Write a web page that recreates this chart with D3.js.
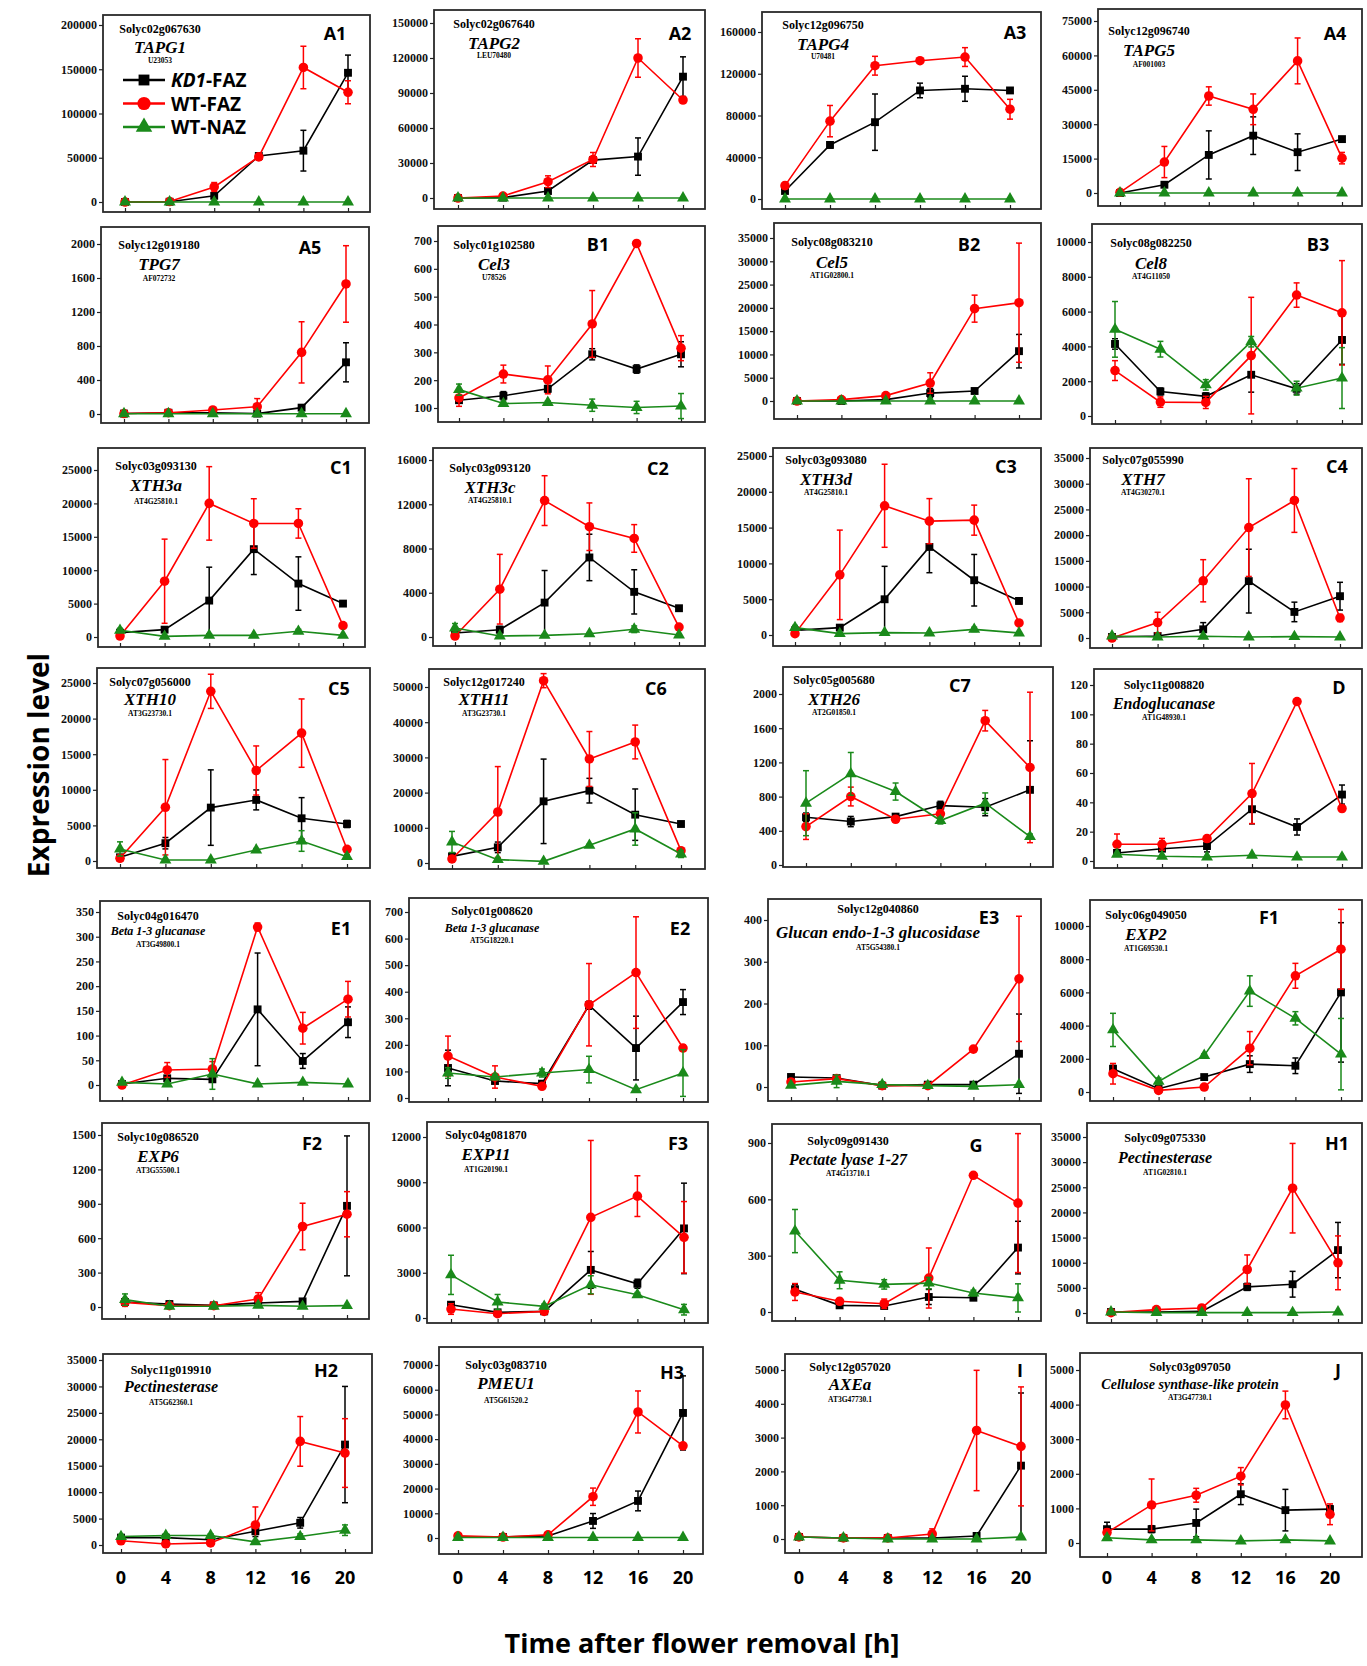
<!DOCTYPE html>
<html>
<head>
<meta charset="utf-8">
<script src="https://cdn.jsdelivr.net/npm/d3@7"></script>
<style>
  body { margin: 0; background: #fff; }
  svg { display: block; }
  .tick text { font-family: "Liberation Serif", serif; font-weight: bold; font-size: 12px; fill: #111; }
  .tick line { stroke: #222; stroke-width: 1.2; }
</style>
</head>
<body>
<div id="chart"></div>
<script>
/* DATA */
const times = [0, 4, 8, 12, 16, 20];
const seriesNames = ["KD1-FAZ", "WT-FAZ", "WT-NAZ"];

const panelIds = ["A1","A2","A3","A4","A5","B1","B2","B3","C1","C2","C3","C4","C5","C6","C7","D",
  "E1","E2","E3","F1","F2","F3","G","H1","H2","H3","I","J"];

const geneIds = ["Solyc02g067630","Solyc02g067640","Solyc12g096750","Solyc12g096740","Solyc12g019180",
  "Solyc01g102580","Solyc08g083210","Solyc08g082250","Solyc03g093130","Solyc03g093120","Solyc03g093080",
  "Solyc07g055990","Solyc07g056000","Solyc12g017240","Solyc05g005680","Solyc11g008820","Solyc04g016470",
  "Solyc01g008620","Solyc12g040860","Solyc06g049050","Solyc10g086520","Solyc04g081870","Solyc09g091430",
  "Solyc09g075330","Solyc11g019910","Solyc03g083710","Solyc12g057020","Solyc03g097050"];

const geneNames = ["TAPG1","TAPG2","TAPG4","TAPG5","TPG7","Cel3","Cel5","Cel8","XTH3a","XTH3c","XTH3d",
  "XTH7","XTH10","XTH11","XTH26","Endoglucanase","Beta 1-3 glucanase","Beta 1-3 glucanase",
  "Glucan endo-1-3 glucosidase","EXP2","EXP6","EXP11","Pectate lyase 1-27","Pectinesterase",
  "Pectinesterase","PMEU1","AXEa","Cellulose synthase-like protein"];

const accessions = ["U23053","LEU70480","U70481","AF001003","AF072732","U78526","AT1G02800.1","AT4G11050",
  "AT4G25810.1","AT4G25810.1","AT4G25810.1","AT4G30270.1","AT3G23730.1","AT3G23730.1","AT2G01850.1",
  "AT1G48930.1","AT3G49800.1","AT5G18220.1","AT5G54380.1","AT1G69530.1","AT3G55500.1","AT1G20190.1",
  "AT4G13710.1","AT1G02810.1","AT5G62360.1","AT5G61520.2","AT3G47730.1","AT3G47730.1"];

// [lowest tick, highest tick, step]
const yTickSpecs = [[0,200000,50000],[0,150000,30000],[0,160000,40000],[0,75000,15000],[0,2000,400],
  [100,700,100],[0,35000,5000],[0,10000,2000],[0,25000,5000],[0,16000,4000],[0,25000,5000],[0,35000,5000],
  [0,25000,5000],[0,50000,10000],[0,2000,400],[0,120,20],[0,350,50],[0,700,100],[0,400,100],[0,10000,2000],
  [0,1500,300],[0,12000,3000],[0,900,300],[0,35000,5000],[0,35000,5000],[0,70000,10000],[0,5000,1000],[0,5000,1000]];

const kd1Values = [
  [0,300,7000,52000,58000,146000],[0,300,6000,32500,35500,104000],[7700,51800,73600,104000,105600,104000],
  [0,3600,16600,25000,17800,23500],[5,15,15,5,75,608],[128,144,169,293,240,293],[0,0,300,1700,2150,10700],
  [4140,1410,1130,2370,1560,4370],[650,1100,5450,13150,8000,5000],[360,660,3110,7190,4080,2600],
  [650,1030,4990,12300,7650,4760],[200,390,1690,11060,5070,8130],[520,2500,7500,8580,6000,5200],
  [1890,4450,17520,20550,13730,11080],[558,508,566,695,676,879],[5.5,8.4,10.2,35.3,23.2,45.3],
  [2,13.5,11.5,153,48.6,127],[113,64,54,349,188,361],[24,21.5,3.2,5.6,5.6,79.7],[1400,200,900,1680,1580,6000],
  [43.5,26,14.5,35,49,882],[880,374,440,3190,2270,5940],[121,35.5,32,80,76,343],[200,200,330,5190,5720,12510],
  [1400,1400,1000,2600,4200,19000],[400,400,850,6900,15000,50600],[60,30,30,30,90,2170],[400,400,580,1410,950,980]];

const kd1Errors = [
  [0,0,2000,2000,23000,20000],[0,0,2000,2000,16000,17000],[1500,3000,27000,7000,12000,1500],
  [0,500,10500,8200,8000,1000],[0,5,5,5,15,230],[10,15,12,20,15,45],[0,0,100,1000,300,3600],
  [300,200,200,1000,300,1400],[200,300,5000,3800,4000,300],[200,300,2900,2100,2000,200],
  [200,300,4600,3600,3600,400],[100,200,1300,6200,1900,2700],[300,800,5300,1400,2900,500],
  [1000,1500,12000,3500,7300,500],[50,60,30,50,100,574],[1,5,4,10,5.5,6.5],[1,5,5,114,15,31],
  [67,10,5,15,120,47],[2,2,2,2,2,95],[200,100,100,500,470,4200],[30,5,5,10,10,610],[100,100,100,1220,300,3000],
  [25,10,10,40,10,140],[100,100,100,700,2560,5500],[300,300,300,1000,1000,11000],[300,300,300,3000,4000,15000],
  [20,20,20,20,30,2150],[200,100,400,300,600,100]];

const wtFazValues = [
  [0,500,17000,51000,152000,124000],[0,1700,14000,33000,120000,84000],[12800,74600,127700,132500,136000,86000],
  [300,13500,42300,36500,57600,15200],[5,15,47,86,725,1530],[136,222,201,402,691,315],[0,300,1150,3860,19830,21100],
  [2610,800,780,3470,6950,5930],[150,8350,20000,17000,17000,1700],[90,4320,12330,9970,8910,900],
  [190,8400,18050,15900,16040,1680],[0,3000,11130,21470,26740,3900],[380,7550,23830,12710,17960,1640],
  [1140,14490,51800,29550,34380,3500],[449,801,535,598,1688,1141],[11.4,11.4,15.3,46,108.7,35.8],
  [0,30.4,32.4,319.6,114.9,173.6],[158,79,44,351,472,188],[12,20,3.2,3.2,90.8,259],[1100,100,300,2640,7000,8600],
  [40.6,11.6,11.6,70,702,809],[594,286,440,6670,8080,5350],[106.5,57,44,181,728,580],[70,665,1000,8650,24820,9980],
  [800,200,400,3800,19600,17400],[850,400,1300,16700,51000,37300],[60,30,30,150,3210,2740],[300,1100,1380,1930,3990,830]];

const wtFazErrors = [
  [0,0,5000,2000,24000,13000],[0,0,5000,6000,16500,2000],[3000,15000,9000,2000,9000,9500],
  [0,6800,4000,6700,10000,2500],[5,5,10,95,360,450],[30,32,50,120,8,45],[0,0,200,2200,2900,12800],
  [570,300,350,3350,700,3000],[300,6300,5500,3700,2200,300],[100,3150,2250,2150,1250,200],
  [200,6250,5800,3150,2100,300],[100,2000,4100,9500,6200,700],[300,6700,2400,3450,4800,300],
  [500,12900,2000,7800,4800,500],[150,110,30,40,120,880],[7,4,2,20.5,1,2],[2,15,15,8,32,36],
  [75,42,5,155,210,12],[3,5,2,2,5,150],[620,100,100,1000,750,2400],[35,5,5,55,203,197],[350,100,100,5100,1350,2370],
  [45,15,25,160,8,370],[100,300,300,2900,8900,5350],[300,200,200,3400,4700,6500],[300,300,500,3500,8500,1000],
  [20,20,20,150,1780,1760],[100,750,200,250,400,300]];

const wtNazValues = [
  [0,0,0,0,0,0],[0,0,0,0,0,0],[0,0,0,0,0,0],[0,0,0,0,0,0],[3,3,3,3,3,3],[166,116,120,110,102,107],
  [0,0,0,0,0,0],[4980,3840,1790,4270,1600,2180],[1000,100,250,250,850,250],[820,90,150,300,700,180],
  [1030,190,330,280,790,280],[390,200,330,200,260,200],[1690,140,140,1550,2810,610],[5970,950,470,5020,9660,2560],
  [723,1066,859,520,723,332],[4.6,3.2,2.7,3.9,2.7,2.7],[5.4,2,22.3,2,5.4,2],[94,79,94,107,31,94],
  [4,13.5,5.6,3.2,1.6,5.6],[3740,640,2200,6080,4440,2280],[64,6,6,14.5,6,11.6],[2860,1060,770,2200,1540,550],
  [431,169,147,154,101,75],[200,70,70,70,70,200],[1600,1800,1800,600,1600,2800],[200,200,200,200,200,200],
  [60,30,0,0,0,60],[150,90,90,60,90,60]];

const wtNazErrors = [
  [0,0,0,0,0,0],[0,0,0,0,0,0],[0,0,0,0,0,0],[0,0,0,0,0,0],[0,0,0,0,0,0],[20,5,5,22,22,45],
  [0,0,0,0,0,0],[1600,450,300,300,400,1750],[300,100,100,100,300,100],[400,100,100,100,300,100],
  [300,100,100,100,300,100],[100,100,100,100,100,100],[1000,100,100,200,1450,300],[3000,300,200,300,4600,1000],
  [380,250,100,40,120,30],[0.5,0.5,0.5,0.5,0.5,0.5],[3,1,31,1,1,1],[20,10,15,50,5,88],
  [3,15,7,2,1,2],[1000,200,100,920,400,2150],[50,5,5,5,5,5],[1300,500,150,600,150,350],
  [115,45,25,30,15,75],[0,0,0,0,0,0],[300,300,300,300,500,1000],[0,0,0,0,0,0],
  [0,0,0,0,0,0],[50,30,30,30,30,30]];

/* LAYOUT (pixels, kept apart from the data) */
// box: panel frame, xt: px of t=0 / t=20, yt: px of lowest / highest tick,
// txt: [centre x, gene id, name, accession baselines], lab: panel letter, ns: name size
const panelLayout = [
  {box:[103,15,370,212], xt:[125,348], yt:[202,25], txt:[160,33,53,63], lab:[335,40]},
  {box:[434,10,705,209], xt:[458,683], yt:[198,23], txt:[494,28,49,58], lab:[680,40]},
  {box:[762,12,1041,209], xt:[785,1010], yt:[199,32], txt:[823,29,50,59], lab:[1015,39]},
  {box:[1098,9,1362,206], xt:[1120,1342], yt:[193,21], txt:[1149,35,56,67], lab:[1335,40]},
  {box:[101,227,369,423], xt:[124,346], yt:[414,244], txt:[159,249,270,281], lab:[310,254]},
  {box:[438,226,705,422], xt:[459,681], yt:[408,241], txt:[494,249,270,280], lab:[598,251]},
  {box:[774,223,1041,419], xt:[797,1019], yt:[401,238], txt:[832,246,268,278], lab:[969,251]},
  {box:[1092,224,1362,424], xt:[1115,1342], yt:[416,242], txt:[1151,247,269,279], lab:[1318,251]},
  {box:[98,448,365,647], xt:[120,343], yt:[637,470], txt:[156,470,491,504], lab:[341,474]},
  {box:[433,448,705,646], xt:[455,679], yt:[637,460], txt:[490,472,493,503], lab:[658,475]},
  {box:[773,448,1041,646], xt:[795,1019], yt:[635,456], txt:[826,464,485,495], lab:[1006,473]},
  {box:[1090,448,1362,648], xt:[1112,1340], yt:[638,458], txt:[1143,464,485,495], lab:[1337,473]},
  {box:[97,668,370,868], xt:[120,347], yt:[861,683], txt:[150,686,705,716], lab:[339,695]},
  {box:[429,669,705,869], xt:[452,681], yt:[863,687], txt:[484,686,705,716], lab:[656,695]},
  {box:[783,667,1053,867], xt:[806,1030], yt:[865,694], txt:[834,684,705,715], lab:[960,692]},
  {box:[1094,669,1362,868], xt:[1117,1342], yt:[861,685], txt:[1164,689,709,720], lab:[1339,694], ns:16},
  {box:[100,901,370,1101], xt:[122,348], yt:[1085,912], txt:[158,920,935,947], lab:[341,935], ns:12},
  {box:[409,898,708,1102], xt:[448,683], yt:[1098,912], txt:[492,915,932,943], lab:[680,935], ns:12},
  {box:[768,899,1041,1101], xt:[791,1019], yt:[1087,920], txt:[878,913,938,950], lab:[989,924], ns:17},
  {box:[1090,900,1362,1101], xt:[1113,1341], yt:[1092,926], txt:[1146,919,940,951], lab:[1269,924]},
  {box:[102,1123,369,1319], xt:[125,347], yt:[1307,1135], txt:[158,1141,1162,1173], lab:[312,1150]},
  {box:[427,1122,708,1323], xt:[451,684], yt:[1318,1137], txt:[486,1139,1160,1172], lab:[678,1150]},
  {box:[772,1124,1041,1321], xt:[795,1018], yt:[1312,1143], txt:[848,1145,1165,1176], lab:[976,1152], ns:16},
  {box:[1087,1123,1362,1323], xt:[1111,1338], yt:[1313,1137], txt:[1165,1142,1163,1175], lab:[1337,1150], ns:16},
  {box:[103,1354,372,1553], xt:[121,345], yt:[1545,1360], txt:[171,1374,1392,1405], lab:[326,1377], ns:16},
  {box:[439,1347,703,1554], xt:[458,683], yt:[1538,1365], txt:[506,1369,1389,1403], lab:[672,1379]},
  {box:[785,1354,1046,1553], xt:[799,1021], yt:[1539,1370], txt:[850,1371,1390,1402], lab:[1020,1377]},
  {box:[1080,1353,1362,1557], xt:[1107,1330], yt:[1543,1370], txt:[1190,1371,1389,1400], lab:[1338,1377], ns:14}
];

const series = [
  { values: kd1Values, errors: kd1Errors, color: "#000000", symbol: d3.symbolSquare, size: 62 },
  { values: wtFazValues, errors: wtFazErrors, color: "#ff0000", symbol: d3.symbolCircle, size: 72 },
  { values: wtNazValues, errors: wtNazErrors, color: "#1a8a1a", symbol: d3.symbolTriangle, size: 62 }
];

const width = 1367, height = 1666;

const svg = d3.select("#chart")
  .append("svg")
  .attr("width", width)
  .attr("height", height);

/* PANELS */
panelIds.forEach((id, i) => {
  const L = panelLayout[i];
  const [bx0, by0, bx1, by1] = L.box;
  const [lo, hi, step] = yTickSpecs[i];

  const xScale = d3.scaleLinear().domain([0, 20]).range(L.xt);
  const yScale = d3.scaleLinear().domain([lo, hi]).range(L.yt);

  const g = svg.append("g").attr("class", "panel " + id);

  g.append("rect")
    .attr("x", bx0).attr("y", by0)
    .attr("width", bx1 - bx0).attr("height", by1 - by0)
    .attr("fill", "#fff")
    .attr("stroke", "#2a2a2a")
    .attr("stroke-width", 1.8);

  g.append("clipPath").attr("id", "clip-" + id)
    .append("rect")
    .attr("x", bx0).attr("y", by0)
    .attr("width", bx1 - bx0).attr("height", by1 - by0);

  // y axis, ticks outward
  const yAxis = d3.axisLeft(yScale)
    .tickValues(d3.range(lo, hi + step / 2, step))
    .tickSize(4)
    .tickPadding(2)
    .tickFormat(d3.format("d"));
  const yg = g.append("g").attr("transform", `translate(${bx0},0)`).call(yAxis);
  yg.select(".domain").remove();

  // x ticks, inward from the bottom frame
  const xAxis = d3.axisTop(xScale).tickValues(times).tickSize(4).tickFormat("");
  const xg = g.append("g").attr("transform", `translate(0,${by1})`).call(xAxis);
  xg.select(".domain").remove();

  const plot = g.append("g").attr("clip-path", `url(#clip-${id})`);

  const lineGen = d3.line()
    .x((d, j) => xScale(times[j]))
    .y(d => yScale(d));

  series.forEach(s => {
    const vals = s.values[i];
    const errs = s.errors[i];
    const pts = vals.map((v, j) => ({ t: times[j], v: v, e: errs[j] }));

    plot.append("path")
      .datum(vals)
      .attr("fill", "none")
      .attr("stroke", s.color)
      .attr("stroke-width", 1.6)
      .attr("d", lineGen);

    const eb = plot.selectAll(null)
      .data(pts)
      .join("g")
      .attr("stroke", s.color)
      .attr("stroke-width", 1.5);
    eb.append("line")
      .attr("x1", d => xScale(d.t)).attr("x2", d => xScale(d.t))
      .attr("y1", d => yScale(d.v - d.e)).attr("y2", d => yScale(d.v + d.e));
    eb.append("line")
      .attr("x1", d => xScale(d.t) - 3).attr("x2", d => xScale(d.t) + 3)
      .attr("y1", d => yScale(d.v + d.e)).attr("y2", d => yScale(d.v + d.e));
    eb.append("line")
      .attr("x1", d => xScale(d.t) - 3).attr("x2", d => xScale(d.t) + 3)
      .attr("y1", d => yScale(d.v - d.e)).attr("y2", d => yScale(d.v - d.e));

    plot.selectAll(null)
      .data(pts)
      .join("path")
      .attr("transform", d => `translate(${xScale(d.t)},${yScale(d.v)})`)
      .attr("d", d3.symbol(s.symbol, s.size))
      .attr("fill", s.color);
  });

  // gene annotation
  const [cx, idY, nameY, accY] = L.txt;
  g.append("text")
    .attr("x", cx).attr("y", idY)
    .attr("text-anchor", "middle")
    .attr("font-family", "Liberation Serif, serif")
    .attr("font-weight", "bold")
    .attr("font-size", 12)
    .text(geneIds[i]);
  g.append("text")
    .attr("x", cx).attr("y", nameY)
    .attr("text-anchor", "middle")
    .attr("font-family", "Liberation Serif, serif")
    .attr("font-style", "italic")
    .attr("font-weight", "bold")
    .attr("font-size", L.ns || 17)
    .text(geneNames[i]);
  g.append("text")
    .attr("x", cx).attr("y", accY)
    .attr("text-anchor", "middle")
    .attr("font-family", "Liberation Serif, serif")
    .attr("font-weight", "bold")
    .attr("font-size", 7.5)
    .text(accessions[i]);

  g.append("text")
    .attr("x", L.lab[0]).attr("y", L.lab[1])
    .attr("text-anchor", "middle")
    .attr("font-family", "Open Sans, sans-serif")
    .attr("font-weight", "bold")
    .attr("font-size", 18)
    .text(id);
});

/* LEGEND (inside A1) */
const legend = svg.append("g").attr("transform", "translate(123,80)");
series.forEach((s, k) => {
  const row = legend.append("g").attr("transform", `translate(0,${k * 23.5})`);
  row.append("line").attr("x1", 0).attr("x2", 42).attr("stroke", s.color).attr("stroke-width", 2.5);
  row.append("path")
    .attr("transform", "translate(21,0)")
    .attr("d", d3.symbol(s.symbol, s.size * 1.9))
    .attr("fill", s.color);
  const t = row.append("text")
    .attr("x", 48).attr("y", 7)
    .attr("font-family", "Open Sans, sans-serif")
    .attr("font-weight", "bold")
    .attr("font-size", 19);
  if (k === 0) {
    t.append("tspan").attr("font-style", "italic").text("KD1");
    t.append("tspan").text("-FAZ");
  } else {
    t.text(seriesNames[k]);
  }
});

/* SHARED AXIS LABELS */
// time labels under the bottom row of panels
[24, 25, 26, 27].forEach(i => {
  const xScale = d3.scaleLinear().domain([0, 20]).range(panelLayout[i].xt);
  svg.append("g")
    .selectAll("text")
    .data(times)
    .join("text")
    .attr("x", d => xScale(d))
    .attr("y", 1584)
    .attr("text-anchor", "middle")
    .attr("font-family", "Open Sans, sans-serif")
    .attr("font-weight", "bold")
    .attr("font-size", 18)
    .text(d => d);
});

svg.append("text")
  .attr("x", 702).attr("y", 1653)
  .attr("text-anchor", "middle")
  .attr("font-family", "Open Sans, sans-serif")
  .attr("font-weight", "bold")
  .attr("font-size", 27)
  .text("Time after flower removal [h]");

svg.append("text")
  .attr("transform", "translate(49,765) rotate(-90)")
  .attr("text-anchor", "middle")
  .attr("font-family", "Open Sans, sans-serif")
  .attr("font-weight", "bold")
  .attr("font-size", 28)
  .text("Expression level");
</script>
</body>
</html>
